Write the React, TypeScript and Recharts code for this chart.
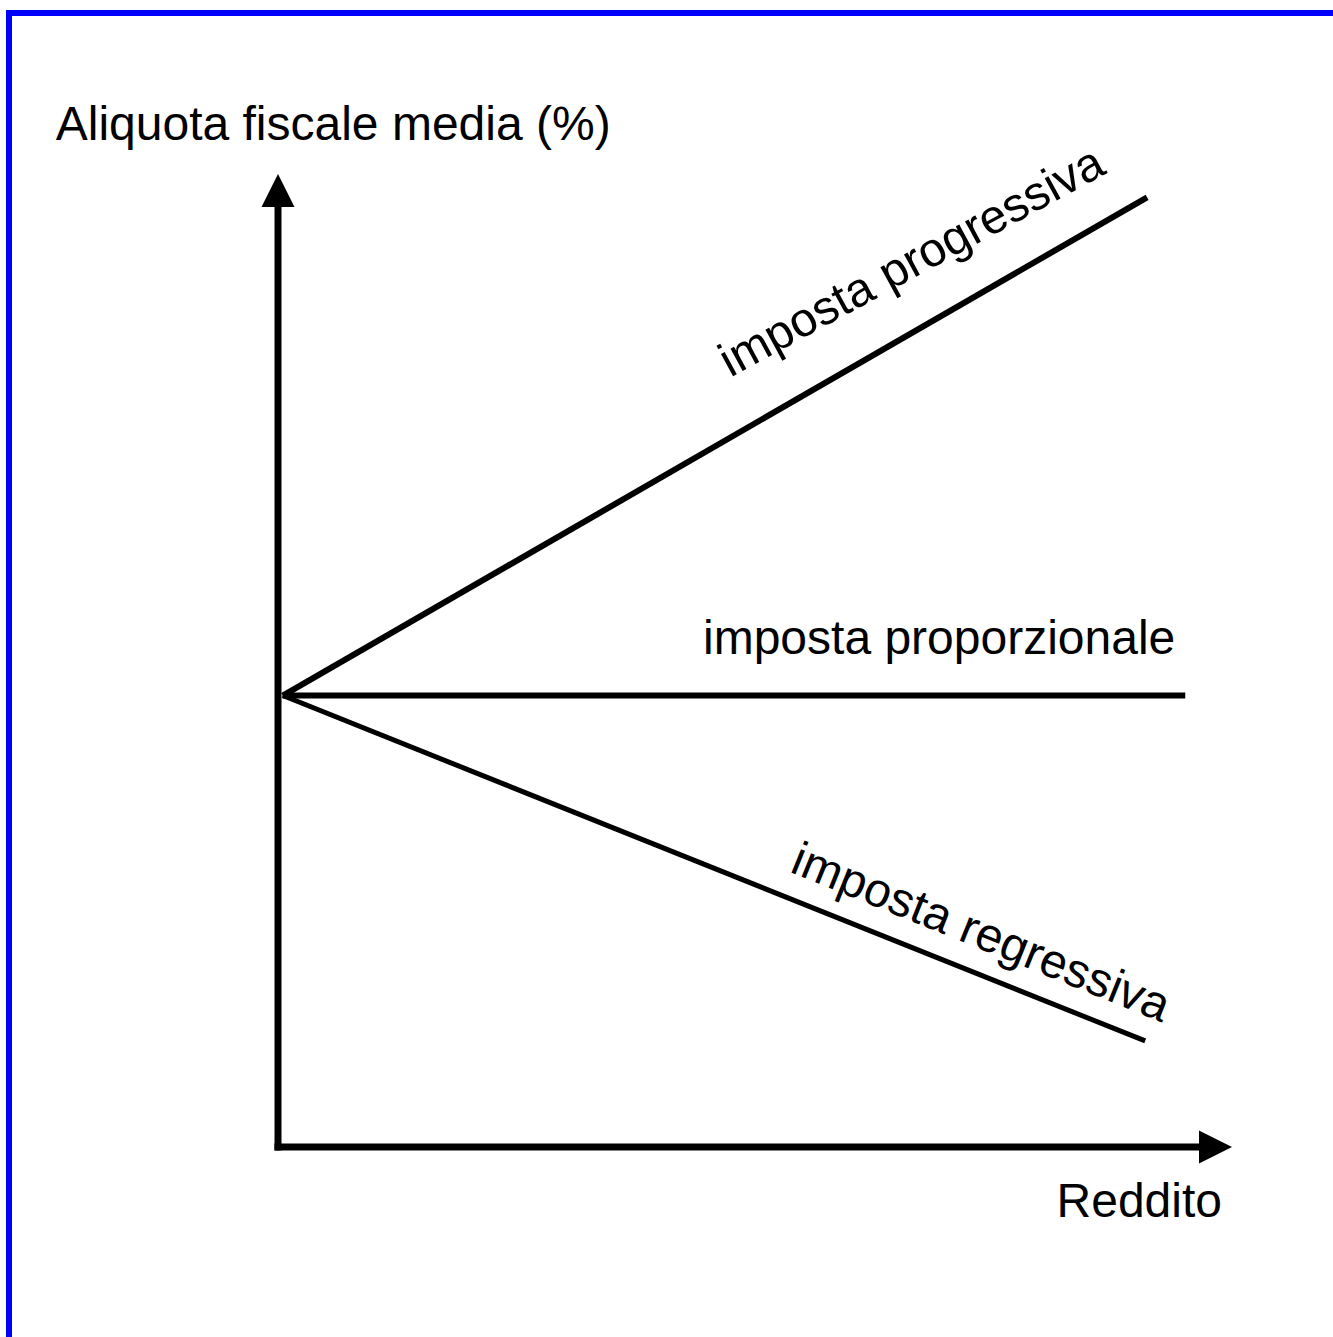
import React from 'react';
import { LineChart, Line, XAxis, YAxis, ReferenceLine, ReferenceDot } from 'recharts';

// Series (x = reddito, y = aliquota media)
const progressivaX = [0.5, 91.1];
const progressivaY = [46.4, 97.6];
const proporzionaleX = [0.5, 95.1];
const proporzionaleY = [46.4, 46.4];
const regressivaX = [0.5, 90.9];
const regressivaY = [46.4, 10.9];

// Axis extents (data units)
const dominio: [number, number] = [0, 100];
const fineAsseX = 96.5;
const fineAsseY = 96.6;

// Text
const titoloY = 'Aliquota fiscale media (%)';
const titoloX = 'Reddito';
const nomiSerie = ['imposta progressiva', 'imposta proporzionale', 'imposta regressiva'];

const FONT = '"Liberation Sans", Arial, Helvetica, sans-serif';

const toData = (xs: number[], ys: number[]) => xs.map((x, i) => ({ x, y: ys[i] }));

const etichette = [
  { testo: nomiSerie[0], x: 67.2, y: 89.6, angolo: -28.5, anchor: 'middle' },
  { testo: nomiSerie[1], x: 44.55, y: 50.67, angolo: 0, anchor: 'start' },
  { testo: nomiSerie[2], x: 73.1, y: 20.55, angolo: 22, anchor: 'middle' },
  { testo: titoloY, x: -23.3, y: 103.49, angolo: 0, anchor: 'start' },
  { testo: titoloX, x: 98.95, y: -7.19, angolo: 0, anchor: 'end' },
];

const ARROW = 33;
const HALF = 16.5;

const ArrowUp = (p: any) => (
  <polygon
    points={`${p.cx},${p.cy} ${p.cx - HALF},${p.cy + ARROW} ${p.cx + HALF},${p.cy + ARROW}`}
    fill="#000"
  />
);
const ArrowRight = (p: any) => (
  <polygon
    points={`${p.cx},${p.cy} ${p.cx - ARROW},${p.cy - HALF} ${p.cx - ARROW},${p.cy + HALF}`}
    fill="#000"
  />
);

const makeText = (testo: string, angolo: number, anchor: string) => (p: any) => (
  <text
    x={p.cx}
    y={p.cy}
    fontFamily={FONT}
    fontSize={48}
    fill="#000"
    textAnchor={anchor as any}
    transform={angolo ? `rotate(${angolo} ${p.cx} ${p.cy})` : undefined}
  >
    {testo}
  </text>
);

export default function App() {
  return (
    <div style={{ position: 'absolute', left: 0, top: 0, width: 1333, height: 1337, background: '#fff' }}>
      <div style={{ position: 'absolute', left: 6, top: 10, width: 1327, height: 6, background: '#0000ff' }} />
      <div style={{ position: 'absolute', left: 6, top: 10, width: 6, height: 1327, background: '#0000ff' }} />
      <div style={{ position: 'absolute', left: 0, top: 0 }}>
        <LineChart width={1333} height={1337} margin={{ top: 174, right: 101, bottom: 190, left: 278 }}>
          <XAxis type="number" dataKey="x" domain={dominio} hide allowDataOverflow />
          <YAxis type="number" dataKey="y" domain={dominio} hide allowDataOverflow />
          <ReferenceLine
            segment={[{ x: 0, y: 0 }, { x: 0, y: fineAsseY }]}
            stroke="#000"
            strokeWidth={7}
            strokeLinecap="square"
            ifOverflow="visible"
          />
          <ReferenceLine
            segment={[{ x: 0, y: 0 }, { x: fineAsseX, y: 0 }]}
            stroke="#000"
            strokeWidth={7}
            strokeLinecap="square"
            ifOverflow="visible"
          />
          <ReferenceDot x={0} y={dominio[1]} r={0} shape={ArrowUp} ifOverflow="visible" />
          <ReferenceDot x={dominio[1]} y={0} r={0} shape={ArrowRight} ifOverflow="visible" />
          <Line
            data={toData(progressivaX, progressivaY)}
            dataKey="y"
            stroke="#000"
            strokeWidth={6}
            dot={false}
            activeDot={false}
            isAnimationActive={false}
          />
          <Line
            data={toData(proporzionaleX, proporzionaleY)}
            dataKey="y"
            stroke="#000"
            strokeWidth={6}
            dot={false}
            activeDot={false}
            isAnimationActive={false}
          />
          <Line
            data={toData(regressivaX, regressivaY)}
            dataKey="y"
            stroke="#000"
            strokeWidth={5}
            dot={false}
            activeDot={false}
            isAnimationActive={false}
          />
          {etichette.map((e) => (
            <ReferenceDot
              key={e.testo}
              x={e.x}
              y={e.y}
              r={0}
              ifOverflow="visible"
              shape={makeText(e.testo, e.angolo, e.anchor)}
            />
          ))}
        </LineChart>
      </div>
    </div>
  );
}
